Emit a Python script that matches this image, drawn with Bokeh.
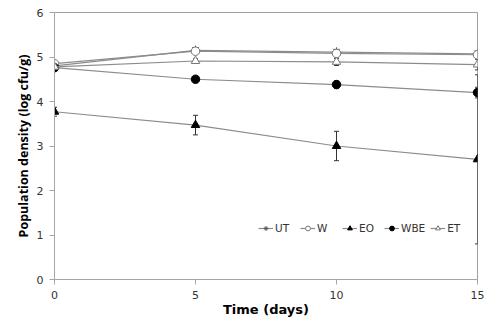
from bokeh.plotting import figure
from bokeh.models import ColumnDataSource, Whisker, Legend, LegendItem, FixedTicker, TeeHead
from bokeh.embed import file_html
from bokeh.resources import INLINE

days = [0, 5, 10, 15]
ut = [4.80, 5.15, 5.11, 5.07]
w = [4.85, 5.13, 5.08, 5.05]
eo = [3.77, 3.47, 3.00, 2.70]
eo_err = [0.10, 0.22, 0.33, 1.90]
wbe = [4.76, 4.50, 4.38, 4.20]
wbe_err = [0.06, 0.05, 0.08, 0.12]
et = [4.78, 4.91, 4.89, 4.83]
et_err = [0.05, 0.05, 0.08, 0.12]
ut_err = [0.05, 0.06, 0.06, 0.06]
w_err = [0.05, 0.05, 0.05, 0.05]

p = figure(width=486, height=322, output_backend="svg", toolbar_location=None,
           x_range=(0, 15), y_range=(0, 6),
           min_border_left=54, min_border_right=9, min_border_top=12, min_border_bottom=43)
p.xgrid.visible = False
p.ygrid.visible = False
p.outline_line_color = "#a0a0a0"
p.outline_line_width = 1

for ax in (p.xaxis[0], p.yaxis[0]):
    ax.axis_line_color = "#a6a6a6"
    ax.major_tick_line_color = "#a6a6a6"
    ax.minor_tick_line_color = None
    ax.major_tick_in = 0
    ax.major_tick_out = 5
    ax.major_label_text_font = "DejaVu Sans"
    ax.major_label_text_font_size = "11px"
    ax.major_label_text_color = "#333333"
    ax.axis_label_text_font_style = "bold"
    ax.axis_label_text_color = "#000000"

p.xaxis.ticker = FixedTicker(ticks=[0, 5, 10, 15])
p.yaxis.ticker = FixedTicker(ticks=[0, 1, 2, 3, 4, 5, 6])
p.xaxis.axis_label = "Time (days)"
p.xaxis.axis_label_text_font = "DejaVu Sans"
p.xaxis.axis_label_text_font_size = "13px"
p.xaxis.axis_label_standoff = 0
p.yaxis.axis_label = "Population density (log cfu/g)"
p.yaxis.axis_label_text_font = "Open Sans"
p.yaxis.axis_label_text_font_size = "12.5px"
p.yaxis.axis_label_standoff = 2
p.xaxis.major_label_standoff = 6
p.yaxis.major_label_standoff = 6

line_col = "#8c8c8c"
series = [
    ("UT", ut, ut_err, "asterisk", "#555555", "white"),
    ("W", w, w_err, "circle", "#777777", "white"),
    ("EO", eo, eo_err, "triangle", "black", "black"),
    ("WBE", wbe, wbe_err, "circle", "black", "black"),
    ("ET", et, et_err, "triangle", "#777777", "white"),
]

items = []
for name, vals, err, marker, mcol, fcol in series:
    src = ColumnDataSource(dict(x=days, y=vals,
                                lo=[v - e for v, e in zip(vals, err)],
                                hi=[v + e for v, e in zip(vals, err)]))
    wk = Whisker(base="x", lower="lo", upper="hi", source=src, line_color="#333333", line_width=1,
                 upper_head=TeeHead(size=5, line_color="#333333"),
                 lower_head=TeeHead(size=5, line_color="#333333"))
    p.add_layout(wk)
    r1 = p.line("x", "y", source=src, line_color=line_col, line_width=1.2)
    r2 = p.scatter("x", "y", source=src, marker=marker, size=8.5 if marker != "asterisk" else 9.5,
                   line_color=mcol, fill_color=fcol, line_width=1)
    items.append(LegendItem(label=name, renderers=[r1, r2]))

legend = Legend(items=items, orientation="horizontal", location=(204, 45),
                background_fill_alpha=0, border_line_color=None,
                label_text_font="DejaVu Sans", label_text_font_size="10.5px",
                label_text_color="#333333", glyph_width=15, glyph_height=12,
                spacing=5, padding=0, label_standoff=2, margin=0)
p.add_layout(legend)

open("out.html", "w").write(file_html(p, INLINE))
